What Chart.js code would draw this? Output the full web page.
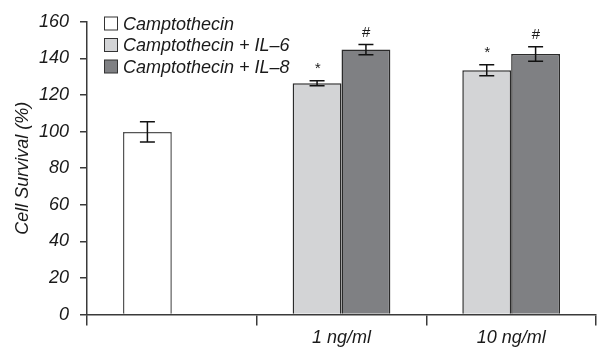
<!DOCTYPE html>
<html>
<head>
<meta charset="utf-8">
<script src="https://cdn.jsdelivr.net/npm/chart.js@4"></script>
<style>
  html, body { margin: 0; padding: 0; background: #fff; }
  #wrap { width: 597px; height: 352px; }
</style>
</head>
<body>
<div id="wrap"><canvas id="chart"></canvas></div>
<script>
//Colors
const colors = {
    white: "#ffffff",
    lightGray: "#d3d4d6",
    darkGray: "#7f8083",
    border: "#2b2b2b",
    axis: "#3a3a3a",
    text: "#1a1a1a"
};

// data
const categories = ['', '1 ng/ml', '10 ng/ml'];
const campto_values = [99.8, null, null];
const campto_err = [5.5, null, null];
const il6_values = [null, 126.4, 133.5];
const il6_err = [null, 1.4, 3.0];
const il8_values = [null, 144.8, 142.4];
const il8_err = [null, 2.8, 3.9];
const il6_marks = ['', '*', '*'];
const il8_marks = ['', '#', '#'];
const y_ticks = [0, 20, 40, 60, 80, 100, 120, 140, 160];

const font_family = "'Liberation Sans', Arial, sans-serif";

//error bars + significance marks
const errorBars = {
    id: 'errorBars',
    afterDatasetsDraw(chart) {
        const ctx = chart.ctx;
        const yScale = chart.scales.y;
        chart.data.datasets.forEach((ds, i) => {
            const meta = chart.getDatasetMeta(i);
            meta.data.forEach((bar, j) => {
                const v = ds.data[j];
                if (v === null) return;
                const e = ds.errors[j];
                const top = yScale.getPixelForValue(v + e);
                const bot = yScale.getPixelForValue(v - e);
                ctx.save();
                ctx.strokeStyle = '#111';
                ctx.lineWidth = 1.5;
                ctx.beginPath();
                ctx.moveTo(bar.x, top); ctx.lineTo(bar.x, bot);
                ctx.moveTo(bar.x - 7.5, top); ctx.lineTo(bar.x + 7.5, top);
                ctx.moveTo(bar.x - 7.5, bot); ctx.lineTo(bar.x + 7.5, bot);
                ctx.stroke();
                const mark = ds.marks ? ds.marks[j] : '';
                if (mark) {
                    ctx.fillStyle = colors.text;
                    ctx.font = 'italic 15px ' + font_family;
                    ctx.textAlign = 'center';
                    ctx.textBaseline = 'middle';
                    ctx.fillText(mark, bar.x, top - 12);
                }
                ctx.restore();
            });
        });
    }
};

//legend inside the plot, top-left
const boxLegend = {
    id: 'boxLegend',
    afterDraw(chart) {
        const ctx = chart.ctx;
        ctx.save();
        ctx.font = 'italic 18px ' + font_family;
        ctx.textBaseline = 'middle';
        ctx.textAlign = 'left';
        chart.data.datasets.forEach((ds, i) => {
            const cy = 23.5 + i * 21.5;
            ctx.fillStyle = ds.backgroundColor;
            ctx.fillRect(104.5, cy - 6.5, 13, 13);
            ctx.strokeStyle = '#333';
            ctx.lineWidth = 1;
            ctx.strokeRect(104.5, cy - 6.5, 13, 13);
            ctx.fillStyle = colors.text;
            ctx.fillText(ds.label, 123, cy + 1);
        });
        ctx.restore();
    }
};

const chart = document.querySelector('#chart').getContext('2d');
const chartobj = new Chart(chart, {
    type: 'bar',
    data: {
        labels: categories,
        datasets: [
            { label: 'Camptothecin', data: campto_values, errors: campto_err, stack: 'a',
              backgroundColor: colors.white, borderColor: '#555', borderWidth: 1.5 },
            { label: 'Camptothecin + IL\u20136', data: il6_values, errors: il6_err, marks: il6_marks, stack: 'a',
              backgroundColor: colors.lightGray, borderColor: colors.border, borderWidth: 1.5 },
            { label: 'Camptothecin + IL\u20138', data: il8_values, errors: il8_err, marks: il8_marks, stack: 'b',
              backgroundColor: colors.darkGray, borderColor: colors.border, borderWidth: 1.5 }
        ]
    },
    options: {
        responsive: true,
        maintainAspectRatio: false,
        animation: false,
        categoryPercentage: 0.576,
        barPercentage: 1,
        layout: { padding: { top: 16, right: 1, left: 0, bottom: 0 } },
        plugins: {
            legend: { display: false },
            tooltip: { enabled: false }
        },
        scales: {
            x: {
                grid: { display: true, drawOnChartArea: false, drawTicks: true, tickLength: 11, color: colors.axis, lineWidth: 1.5 },
                border: { display: true, color: colors.axis, width: 1.5 },
                ticks: { color: colors.text, padding: 2, font: { family: font_family, size: 18, style: 'italic' } },
                afterFit(scale) { scale.height = 37.5; }
            },
            y: {
                min: 0,
                max: 160,
                afterBuildTicks(scale) { scale.ticks = y_ticks.map(v => ({ value: v })); },
                grid: { display: true, drawOnChartArea: false, drawTicks: true, tickLength: 7, color: colors.axis, lineWidth: 1.5 },
                border: { display: true, color: colors.axis, width: 1.5 },
                ticks: { color: colors.text, padding: 11, font: { family: font_family, size: 18, style: 'italic' } },
                title: {
                    display: true,
                    text: 'Cell Survival (%)',
                    color: colors.text,
                    padding: { top: 12, bottom: 0 },
                    font: { family: font_family, size: 18, style: 'italic' }
                },
                afterFit(scale) { scale.width = 87; }
            }
        }
    },
    plugins: [errorBars, boxLegend]
});
</script>
</body>
</html>
